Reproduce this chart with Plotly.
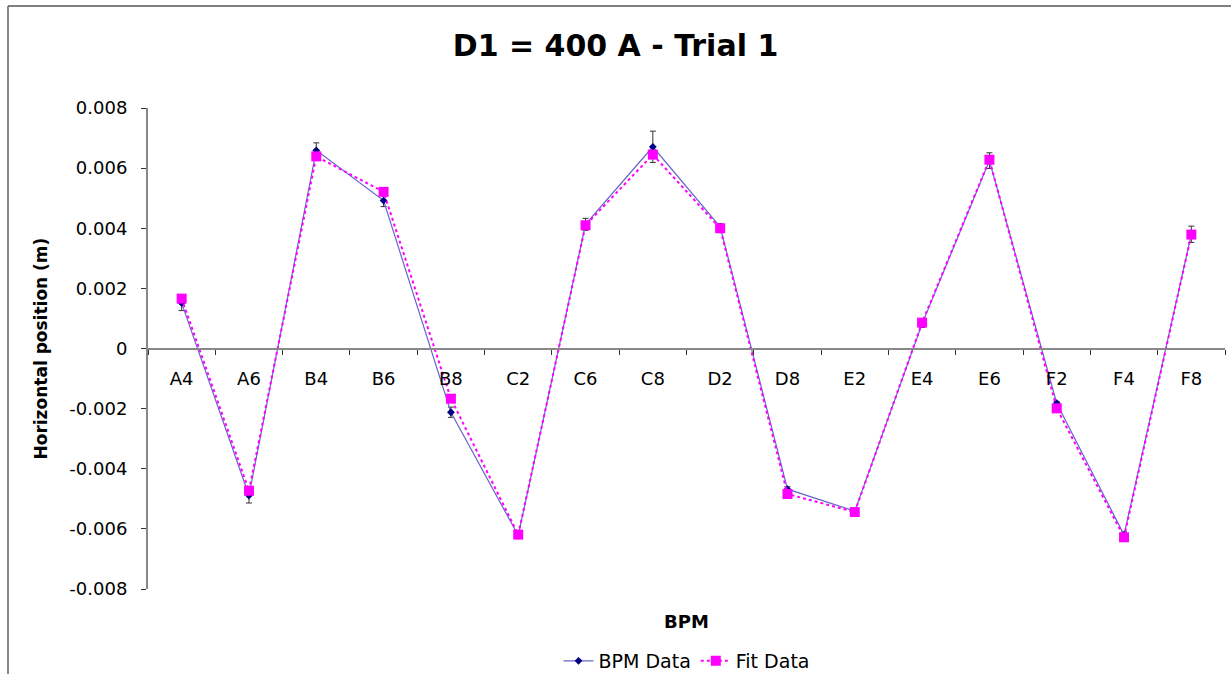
import plotly.graph_objects as go

categories = ["A4", "A6", "B4", "B6", "B8", "C2", "C6", "C8", "D2", "D8", "E2", "E4", "E6", "F2", "F4", "F8"]
bpm_data = [0.00151, -0.00489, 0.00659, 0.00492, -0.00212, -0.00622, 0.00413, 0.00671, 0.00405, -0.00468,
            -0.00541, 0.00082, 0.00625, -0.00182, -0.00620, 0.00380]
bpm_err = [0.00025, 0.00025, 0.00025, 0.00020, 0.00017, 0.00010, 0.00020, 0.00052, 0.00010, 0.00008,
           0.00005, 0.00012, 0.00026, 0.00006, 0.00010, 0.00027]
fit_data = [0.00166, -0.00473, 0.00639, 0.00521, -0.00167, -0.00619, 0.00410, 0.00645, 0.00400, -0.00484,
            -0.00544, 0.00086, 0.00628, -0.00199, -0.00628, 0.00379]
y_ticks = [0.008, 0.006, 0.004, 0.002, 0, -0.002, -0.004, -0.006, -0.008]
y_labels = ["0.008", "0.006", "0.004", "0.002", "0", "-0.002", "-0.004", "-0.006", "-0.008"]

FONT = "DejaVu Sans, Liberation Sans, Arial, sans-serif"

fig = go.Figure()
fig.add_trace(go.Scatter(
    x=categories, y=bpm_data, name="BPM Data", mode="lines+markers",
    line=dict(color="#6666CC", width=1.2),
    marker=dict(symbol="diamond", size=6, color="#000080"),
    error_y=dict(type="data", array=bpm_err, visible=True, color="#333333", thickness=1, width=3),
))
fig.add_trace(go.Scatter(
    x=categories, y=fit_data, name="Fit Data", mode="lines+markers",
    line=dict(color="#FF00FF", width=2, dash="dot"),
    marker=dict(symbol="square", size=10, color="#FF00FF"),
))

fig.update_layout(
    width=1231, height=674,
    margin=dict(l=148, r=6, t=108, b=85, autoexpand=False),
    paper_bgcolor="white", plot_bgcolor="white",
    font=dict(family=FONT, color="black"),
    title=dict(text="<b>D1 = 400 A - Trial 1</b>", x=0.5, xanchor="center", xref="container",
               y=1 - 45 / 674, yref="container", yanchor="middle", font=dict(size=30, color="black")),
    showlegend=True,
    legend=dict(orientation="h", x=0.5, xanchor="center", y=-72 / 481, yanchor="middle",
                font=dict(size=19, color="black"), bgcolor="rgba(0,0,0,0)",
                tracegroupgap=0),
    xaxis=dict(
        type="category", range=[-0.5, 15.5], anchor="free", position=0.5,
        showline=True, linecolor="#888888", linewidth=2,
        ticks="outside", tickson="boundaries", ticklen=5, tickcolor="#333333",
        tickfont=dict(size=18, color="black"), showgrid=False, zeroline=False,
        ticklabelstandoff=14,
    ),
    yaxis=dict(
        range=[-0.008, 0.008], tickvals=y_ticks, ticktext=y_labels,
        showline=True, linecolor="#888888", linewidth=2,
        ticks="outside", ticklen=5, tickcolor="#333333",
        tickfont=dict(size=18, color="black"), showgrid=False, zeroline=False,
        ticklabelstandoff=10,
    ),
    annotations=[
        dict(text="<b>BPM</b>", x=0.5, xref="paper", y=-32 / 481, yref="paper", showarrow=False,
             font=dict(size=18, color="black"), xanchor="center", yanchor="middle"),
        dict(text="<b>Horizontal position (m)</b>", x=-108 / 1077, xref="paper", y=0.5, yref="paper",
             showarrow=False, textangle=-90, font=dict(size=17, color="black"),
             xanchor="center", yanchor="middle"),
    ],
    shapes=[
        dict(type="line", xref="paper", yref="paper", x0=-140 / 1077, x1=1.01, y0=583 / 481, y1=583 / 481,
             line=dict(color="#808080", width=2)),
        dict(type="line", xref="paper", yref="paper", x0=-140 / 1077, x1=-140 / 1077, y0=583 / 481, y1=-0.2,
             line=dict(color="#606060", width=1.5)),
    ],
)

fig.write_html("out.html", config={"displayModeBar": False},
               post_script="document.body.style.margin='0';document.body.style.overflow='hidden';")
